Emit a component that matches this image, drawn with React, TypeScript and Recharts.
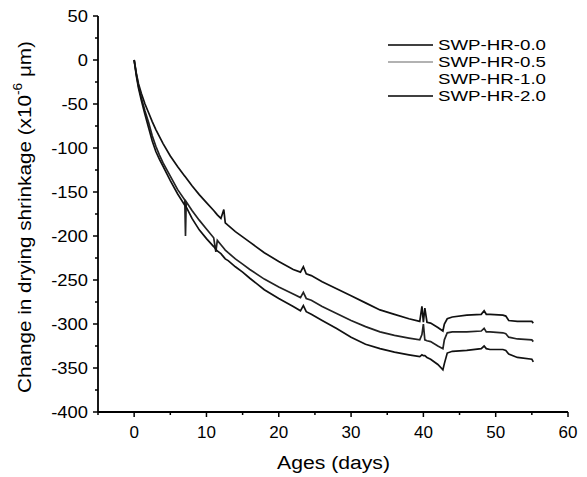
import { LineChart, Line, XAxis, YAxis, Label } from "recharts";

const FONT = '"Liberation Sans", Arial, Helvetica, sans-serif';

// ages in days, shared by all series
const days = [
  0, 0.3, 0.6, 1, 1.5, 2, 2.5, 3, 3.5, 4, 5, 6, 7, 7.1, 7.2, 8, 9, 10, 11, 11.3, 11.5, 12, 12.4,
  12.6, 13, 14, 15, 16, 18, 20, 22, 23, 23.4, 23.8, 24.5, 26, 28, 30, 32, 34, 36, 38, 39.5, 39.8,
  40, 40.2, 40.5, 41, 42, 42.7, 42.9, 43.3, 44, 46, 48, 48.4, 48.7, 49.2, 51, 51.4, 51.8, 53, 55,
  55.2,
];

const hr00 = [
  0, -15, -27, -38, -50, -60, -70, -79, -87, -95, -109, -121, -132, -133, -134, -143, -153, -162,
  -171, -174, -176, -180, -170, -185, -188, -195, -201, -207, -219, -229, -238, -241, -235, -243,
  -245, -252, -260, -268, -276, -284, -289, -294, -297, -280, -298, -282, -298, -299, -304, -308,
  -300, -294, -292, -290, -289, -285, -289, -289, -290, -291, -296, -297, -297, -299,
];

const hr05 = [
  0, -16, -30, -43, -58, -71, -86, -98, -108, -117, -132, -147, -159, -200, -161, -171, -182, -192,
  -202, -218, -205, -210, -214, -216, -219, -226, -232, -238, -249, -258, -266, -270, -264, -271,
  -273, -280, -288, -296, -303, -309, -313, -316, -318, -312, -300, -318, -319, -320, -325, -328,
  -318, -310, -309, -309, -308, -305, -309, -309, -310, -311, -315, -317, -318, -320,
];

const hr20 = [
  0, -18, -32, -46, -62, -77, -92, -104, -113, -121, -137, -152, -165, -166, -167, -180, -193, -203,
  -212, -215, -217, -220, -224, -226, -228, -235, -241, -248, -261, -271, -280, -285, -279, -286,
  -289, -296, -305, -315, -323, -328, -332, -335, -337, -335, -336, -336, -338, -340, -346, -352,
  -345, -333, -331, -330, -328, -325, -328, -329, -329, -330, -334, -338, -340, -343,
];

const legendNames = ["SWP-HR-0.0", "SWP-HR-0.5", "SWP-HR-1.0", "SWP-HR-2.0"];
const legendColors = ["#000", "#999", "none", "#000"];

const xTicks = [-5, 0, 5, 10, 15, 20, 25, 30, 35, 40, 45, 50, 55, 60];
const yTicks = [
  -400, -375, -350, -325, -300, -275, -250, -225, -200, -175, -150, -125, -100, -75, -50, -25, 0,
  25, 50,
];

const data = days.map((day, i) => ({ day, hr00: hr00[i], hr05: hr05[i], hr20: hr20[i] }));

function XTick({ x, y, payload }: any) {
  const major = payload.value % 10 === 0;
  return (
    <g>
      <line x1={x} x2={x} y1={y} y2={y + (major ? 5 : 3)} stroke="#000" strokeWidth={1.5} />
      {major && (
        <text x={x} y={y + 26} textAnchor="middle" fontSize={17} fontFamily={FONT} fill="#000">
          {payload.value}
        </text>
      )}
    </g>
  );
}

function YTick({ x, y, payload }: any) {
  const major = payload.value % 50 === 0;
  return (
    <g>
      <line x1={x - (major ? 5 : 3)} x2={x} y1={y} y2={y} stroke="#000" strokeWidth={1.5} />
      {major && (
        <text
          x={x - 10}
          y={y}
          dy="0.36em"
          textAnchor="end"
          fontSize={17}
          fontFamily={FONT}
          fill="#000"
          transform={`translate(${x - 10},0) scale(1.08,1) translate(${-(x - 10)},0)`}
        >
          {payload.value}
        </text>
      )}
    </g>
  );
}

function YTitle({ viewBox }: any) {
  const vb = viewBox || { x: 0, y: 16, width: 98, height: 396 };
  const cx = vb.x + 25;
  const cy = vb.y + vb.height / 2 + 3;
  return (
    <text
      transform={`translate(${cx},${cy}) rotate(-90)`}
      textAnchor="middle"
      dominantBaseline="central"
      fontSize={18}
      fontFamily={FONT}
      fill="#000"
      textLength={352}
      lengthAdjust="spacingAndGlyphs"
    >
      Change in drying shrinkage (x10
      <tspan dy={-7} fontSize={12}>
        -6
      </tspan>
      <tspan dy={7}> μm)</tspan>
    </text>
  );
}

function XTitle({ viewBox }: any) {
  const vb = viewBox || { x: 98, y: 412, width: 470, height: 65 };
  return (
    <text
      x={vb.x + vb.width / 2 - 56}
      y={vb.y + 57}
      fontSize={18}
      fontFamily={FONT}
      fill="#000"
      textLength={113}
      lengthAdjust="spacingAndGlyphs"
    >
      Ages (days)
    </text>
  );
}

function LegendBox() {
  return (
    <svg width={190} height={80} style={{ position: "absolute", left: 385, top: 35 }}>
      {legendNames.map((name, i) => {
        const y = 10 + i * 17;
        return (
          <g key={name}>
            {legendColors[i] !== "none" && (
              <line x1={3} x2={48} y1={y} y2={y} stroke={legendColors[i]} strokeWidth={1.3} />
            )}
            <text
              x={53}
              y={y}
              dy="0.36em"
              fontSize={15}
              fontFamily={FONT}
              fill="#000"
              textLength={108}
              lengthAdjust="spacingAndGlyphs"
            >
              {name}
            </text>
          </g>
        );
      })}
    </svg>
  );
}

export default function App() {
  return (
    <div style={{ position: "fixed", left: 0, top: 0, width: 587, height: 477, background: "#fff" }}>
      <LineChart width={587} height={477} data={data} margin={{ top: 16, right: 19, bottom: 0, left: 0 }}>
        <XAxis
          dataKey="day"
          type="number"
          domain={[-5, 60]}
          ticks={xTicks}
          interval={0}
          tick={<XTick />}
          tickLine={false}
          tickSize={0}
          tickMargin={0}
          height={65}
          axisLine={{ stroke: "#000", strokeWidth: 1.8 }}
        >
          <Label content={<XTitle />} />
        </XAxis>
        <XAxis
          xAxisId="top"
          orientation="top"
          dataKey="day"
          type="number"
          domain={[-5, 60]}
          height={0}
          tick={false}
          tickLine={false}
          axisLine={{ stroke: "#000", strokeWidth: 1.8 }}
        />
        <YAxis
          type="number"
          domain={[-400, 50]}
          ticks={yTicks}
          interval={0}
          tick={<YTick />}
          tickLine={false}
          tickSize={0}
          tickMargin={0}
          width={98}
          axisLine={{ stroke: "#000", strokeWidth: 1.8 }}
        >
          <Label content={<YTitle />} />
        </YAxis>
        <YAxis
          yAxisId="right"
          orientation="right"
          type="number"
          domain={[-400, 50]}
          width={0}
          tick={false}
          tickLine={false}
          axisLine={{ stroke: "#000", strokeWidth: 1.8 }}
        />
        <Line dataKey="hr00" stroke="#111" strokeWidth={1.7} dot={false} isAnimationActive={false} />
        <Line dataKey="hr05" stroke="#222" strokeWidth={1.7} dot={false} isAnimationActive={false} />
        <Line dataKey="hr20" stroke="#111" strokeWidth={1.7} dot={false} isAnimationActive={false} />
      </LineChart>
      <LegendBox />
    </div>
  );
}
